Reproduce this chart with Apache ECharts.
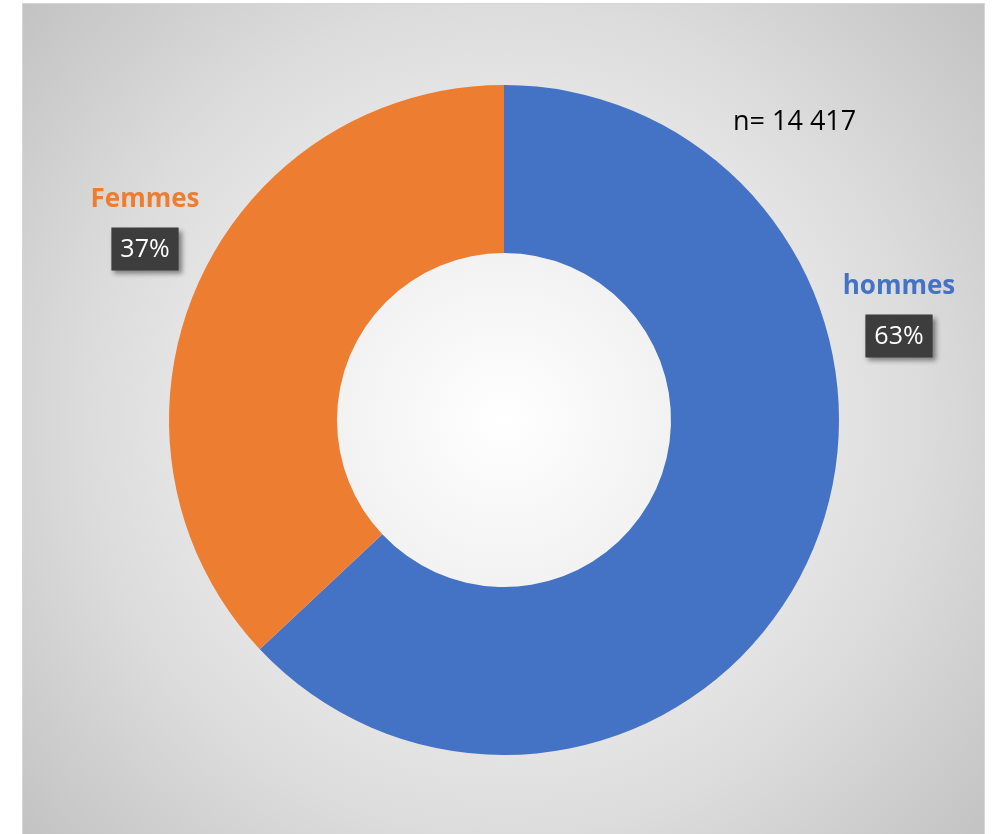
<!DOCTYPE html>
<html>
<head>
<meta charset="utf-8">
<script src="https://cdn.jsdelivr.net/npm/echarts@6/dist/echarts.min.js"></script>
<style>
  html, body { margin: 0; padding: 0; background: #fff; }
  #main {
    position: absolute;
    left: 22px; top: 3px;
    width: 961px; height: 840px;
    border: 1px solid #d6d6d6;
    border-bottom: none;
    background: radial-gradient(circle farthest-corner at 481px 416px, #ffffff 0%, #f0f0f0 30%, #dcdcdc 65%, #c2c2c2 100%);
  }
</style>
</head>
<body>
<div id="main"></div>
<script>
// data
var categories = ['hommes', 'Femmes'];
var shares = [63, 37];
var colors = ['#4472C4', '#ED7D31'];
var totalN = '14 417';

// where Excel put the data labels (chart px, centre of the name+box block)
var labelPos = [[876, 299], [122, 212]];

var myChart = echarts.init(document.getElementById('main'));

var data = categories.map(function (c, i) {
    return {
        name: c,
        value: shares[i],
        itemStyle: { color: colors[i] },
        label: {
            rich: {
                name: { color: colors[i], fontSize: 26, fontWeight: 'bold', fontFamily: 'Open Sans', lineHeight: 66 }
            }
        }
    };
});

var option = {
    animation: false,
    title: {
        text: 'n= ' + totalN,
        left: 710, top: 105,
        padding: 0,
        textStyle: { color: '#000', fontSize: 27, fontWeight: 'normal', fontFamily: 'Open Sans' }
    },
    series: [
        {
            type: 'pie',
            center: [481, 416],
            radius: [167, 335],
            startAngle: 90,
            clockwise: true,
            silent: true,
            labelLine: { show: false },
            label: {
                show: true,
                position: 'outside',
                align: 'center',
                formatter: function (p) {
                    return '{name|' + p.name + '}\n{box|' + p.value + '%}';
                },
                rich: {
                    box: {
                        color: '#fff', fontSize: 25, fontFamily: 'Open Sans',
                        lineHeight: 33,
                        backgroundColor: '#3d3d3d',
                        padding: [10, 9, 8, 9],
                        shadowColor: 'rgba(0,0,0,0.45)', shadowBlur: 5,
                        shadowOffsetX: 3, shadowOffsetY: 3
                    }
                }
            },
            labelLayout: function (params) {
                var pos = labelPos[params.dataIndex];
                return { x: pos[0], y: pos[1], align: 'center', verticalAlign: 'middle' };
            },
            data: data
        }
    ]
};

myChart.setOption(option);
</script>
</body>
</html>
